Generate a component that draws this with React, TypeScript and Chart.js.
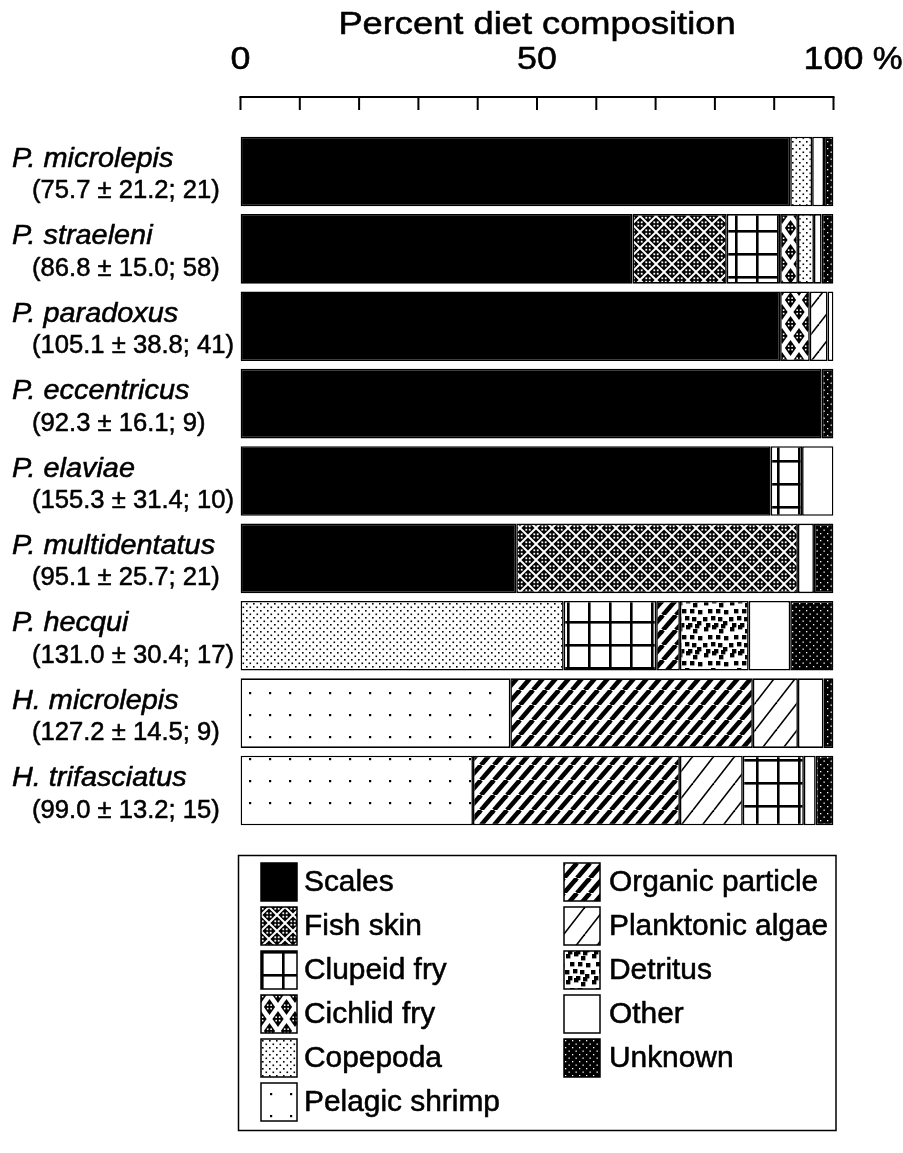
import React, { useEffect, useRef } from "react";
import { Chart, registerables } from "chart.js";

Chart.register(...registerables);

// ---------- data ----------
const species = [
  "P. microlepis",
  "P. straeleni",
  "P. paradoxus",
  "P. eccentricus",
  "P. elaviae",
  "P. multidentatus",
  "P. hecqui",
  "H. microlepis",
  "H. trifasciatus",
];
const sizeStats = [
  "(75.7 ± 21.2; 21)",
  "(86.8 ± 15.0; 58)",
  "(105.1 ± 38.8; 41)",
  "(92.3 ± 16.1; 9)",
  "(155.3 ± 31.4; 10)",
  "(95.1 ± 25.7; 21)",
  "(131.0 ± 30.4; 17)",
  "(127.2 ± 14.5; 9)",
  "(99.0 ± 13.2; 15)",
];
const categories = [
  "Scales",
  "Fish skin",
  "Clupeid fry",
  "Cichlid fry",
  "Copepoda",
  "Pelagic shrimp",
  "Organic particle",
  "Planktonic algae",
  "Detritus",
  "Other",
  "Unknown",
];
const scales = [92.7, 66.1, 91.0, 98.0, 89.4, 46.5, 0, 0, 0];
const fishSkin = [0, 15.9, 0, 0, 0, 47.5, 0, 0, 0];
const clupeidFry = [0, 9.0, 0, 0, 5.3, 0, 15.6, 0, 10.3];
const cichlidFry = [0, 3.0, 5.0, 0, 0, 0, 0, 0, 0];
const copepoda = [3.7, 2.7, 0, 0, 0, 0, 54.5, 0, 0];
const pelagicShrimp = [0, 0, 0, 0, 0, 0, 0, 45.5, 39.2];
const organicParticle = [0, 0, 0, 0, 0, 0, 4.0, 40.9, 34.9];
const planktonicAlgae = [0, 0, 3.0, 0, 0, 0, 0, 7.6, 10.6];
const detritus = [0, 0, 0, 0, 0, 0, 11.6, 0, 0];
const other = [2.0, 1.3, 1.0, 0, 5.3, 2.7, 7.0, 4.3, 2.0];
const unknown = [1.6, 2.0, 0, 2.0, 0, 3.3, 7.3, 1.7, 3.0];

// order of the segments inside each bar (left to right)
const stackOrder = [
  ["Scales", "Copepoda", "Other", "Unknown"],
  ["Scales", "Fish skin", "Clupeid fry", "Cichlid fry", "Copepoda", "Other", "Unknown"],
  ["Scales", "Cichlid fry", "Planktonic algae", "Other"],
  ["Scales", "Unknown"],
  ["Scales", "Clupeid fry", "Other"],
  ["Scales", "Fish skin", "Other", "Unknown"],
  ["Copepoda", "Clupeid fry", "Organic particle", "Detritus", "Other", "Unknown"],
  ["Pelagic shrimp", "Organic particle", "Planktonic algae", "Other", "Unknown"],
  ["Pelagic shrimp", "Organic particle", "Planktonic algae", "Clupeid fry", "Other", "Unknown"],
];

const axisTickValues = [0, 10, 20, 30, 40, 50, 60, 70, 80, 90, 100];
const axisLabelValues = [0, 50, 100];
const axisTitle = "Percent diet composition";
const axisUnit = " %";

const legendLeft = ["Scales", "Fish skin", "Clupeid fry", "Cichlid fry", "Copepoda", "Pelagic shrimp"];
const legendRight = ["Organic particle", "Planktonic algae", "Detritus", "Other", "Unknown"];

const FONT = '"Liberation Sans", Arial, Helvetica, sans-serif';

// ---------- patterns ----------
function makePattern(w: number, h: number, draw: (g: CanvasRenderingContext2D, w: number, h: number) => void) {
  const c = document.createElement("canvas");
  c.width = w;
  c.height = h;
  const g = c.getContext("2d") as CanvasRenderingContext2D;
  draw(g, w, h);
  return g.createPattern(c, "repeat") as CanvasPattern;
}

function diamond(g: CanvasRenderingContext2D, cx: number, cy: number, hw: number, hh: number) {
  g.beginPath();
  g.moveTo(cx, cy - hh);
  g.lineTo(cx + hw, cy);
  g.lineTo(cx, cy + hh);
  g.lineTo(cx - hw, cy);
  g.closePath();
  g.fill();
}

function dots4(g: CanvasRenderingContext2D, x: number, y: number, s: number) {
  g.fillRect(x - 2.6, y - 2.6, s, s);
  g.fillRect(x + 0.8, y - 2.6, s, s);
  g.fillRect(x - 2.6, y + 0.8, s, s);
  g.fillRect(x + 0.8, y + 0.8, s, s);
}

function buildPatterns(): Record<string, CanvasPattern | string> {
  const fish = makePattern(16, 16, (g, w, h) => {
    g.fillStyle = "#fff";
    g.fillRect(0, 0, w, h);
    g.fillStyle = "#000";
    const pts = [[8, 8], [0, 0], [16, 0], [0, 16], [16, 16]];
    pts.forEach(([x, y]) => diamond(g, x, y, 6.6, 6.6));
    g.fillStyle = "#fff";
    pts.forEach(([x, y]) => dots4(g, x, y, 1.8));
  });
  const clupeid = makePattern(21, 23, (g, w, h) => {
    g.fillStyle = "#fff";
    g.fillRect(0, 0, w, h);
    g.fillStyle = "#000";
    g.fillRect(0, 0, w, 2.6);
    g.fillRect(0, 0, 2.6, h);
  });
  const cichlid = makePattern(17, 24, (g, w, h) => {
    g.fillStyle = "#fff";
    g.fillRect(0, 0, w, h);
    g.fillStyle = "#000";
    const pts = [[8.5, 12], [0, 0], [17, 0], [0, 24], [17, 24]];
    pts.forEach(([x, y]) => diamond(g, x, y, 5.6, 8));
    g.fillStyle = "#fff";
    pts.forEach(([x, y]) => dots4(g, x, y, 1.6));
  });
  const cope = makePattern(7, 7, (g, w, h) => {
    g.fillStyle = "#fff";
    g.fillRect(0, 0, w, h);
    g.fillStyle = "#000";
    g.fillRect(1, 1, 1.6, 1.6);
    g.fillRect(4.5, 4.5, 1.6, 1.6);
  });
  const pelagic = makePattern(20, 22, (g, w, h) => {
    g.fillStyle = "#fff";
    g.fillRect(0, 0, w, h);
    g.fillStyle = "#000";
    g.fillRect(9, 10, 2.2, 2.2);
  });
  const stripes = (w: number, h: number, lw: number) =>
    makePattern(w, h, (g) => {
      g.fillStyle = "#fff";
      g.fillRect(0, 0, w, h);
      g.strokeStyle = "#000";
      g.lineWidth = lw;
      for (let k = -1; k <= 1; k++) {
        g.beginPath();
        g.moveTo(k * w, h);
        g.lineTo(k * w + w, 0);
        g.stroke();
      }
    });
  const organic = stripes(13, 15, 4.6);
  const plankton = stripes(21, 27, 1.6);
  const detr = makePattern(26, 26, (g, w, h) => {
    g.fillStyle = "#fff";
    g.fillRect(0, 0, w, h);
    g.fillStyle = "#000";
    const sq = [[2, 3], [10, 1], [17, 5], [22, 12], [6, 11], [14, 11], [1, 19], [9, 18], [16, 19], [21, 23], [4, 25], [12, 25], [19, 0]];
    sq.forEach(([x, y]) => g.fillRect(x, y, 4.4, 4.4));
    sq.forEach(([x, y]) => {
      if (x + 4.4 > w) g.fillRect(x - w, y, 4.4, 4.4);
      if (y + 4.4 > h) g.fillRect(x, y - h, 4.4, 4.4);
    });
  });
  const unk = makePattern(7, 7, (g, w, h) => {
    g.fillStyle = "#000";
    g.fillRect(0, 0, w, h);
    g.fillStyle = "#fff";
    g.fillRect(1, 1, 1.3, 1.3);
    g.fillRect(4.5, 4.5, 1.3, 1.3);
  });
  return {
    Scales: "#000",
    "Fish skin": fish,
    "Clupeid fry": clupeid,
    "Cichlid fry": cichlid,
    Copepoda: cope,
    "Pelagic shrimp": pelagic,
    "Organic particle": organic,
    "Planktonic algae": plankton,
    Detritus: detr,
    Other: "#fff",
    Unknown: unk,
  };
}

// ---------- text helper (horizontally stretched, slightly heavy text) ----------
function drawText(
  ctx: CanvasRenderingContext2D,
  text: string,
  x: number,
  y: number,
  font: string,
  sx: number,
  align: "left" | "center" | "right" = "left",
  baseline: CanvasTextBaseline = "alphabetic"
) {
  ctx.save();
  ctx.font = font;
  ctx.textAlign = "left";
  ctx.textBaseline = baseline;
  const w = ctx.measureText(text).width * sx;
  const left = align === "center" ? x - w / 2 : align === "right" ? x - w : x;
  ctx.translate(left, y);
  ctx.scale(sx, 1);
  ctx.fillStyle = "#000";
  ctx.strokeStyle = "#000";
  ctx.lineWidth = 0.55;
  ctx.lineJoin = "round";
  ctx.fillText(text, 0, 0);
  ctx.strokeText(text, 0, 0);
  ctx.restore();
  return w;
}

export default function App() {
  const ref = useRef<HTMLCanvasElement>(null);

  useEffect(() => {
    const canvas = ref.current;
    if (!canvas) return;
    const patterns = buildPatterns();

    const valuesByCategory: Record<string, number[]> = {
      Scales: scales,
      "Fish skin": fishSkin,
      "Clupeid fry": clupeidFry,
      "Cichlid fry": cichlidFry,
      Copepoda: copepoda,
      "Pelagic shrimp": pelagicShrimp,
      "Organic particle": organicParticle,
      "Planktonic algae": planktonicAlgae,
      Detritus: detritus,
      Other: other,
      Unknown: unknown,
    };

    const ranges: Record<string, ([number, number] | null)[]> = {};
    categories.forEach((c) => (ranges[c] = species.map(() => null)));
    stackOrder.forEach((order, i) => {
      let cum = 0;
      order.forEach((c) => {
        const v = valuesByCategory[c][i];
        ranges[c][i] = [cum, cum + v];
        cum += v;
      });
    });

    const datasets = categories.map((c) => ({
      label: c,
      data: ranges[c] as any,
      backgroundColor: patterns[c] as any,
      borderColor: "#000",
      borderWidth: 1.6,
      borderSkipped: false as any,
      grouped: false,
      barPercentage: 0.9,
      categoryPercentage: 1,
    }));

    const decor = {
      id: "decor",
      afterDraw(chart: any) {
        const ctx: CanvasRenderingContext2D = chart.ctx;
        const xs = chart.scales.x;
        const ys = chart.scales.y;
        const x0 = xs.getPixelForValue(0);
        const x100 = xs.getPixelForValue(100);

        // top axis
        const axisY = 97;
        ctx.save();
        ctx.strokeStyle = "#000";
        ctx.lineWidth = 2;
        ctx.beginPath();
        ctx.moveTo(x0 - 1, axisY);
        ctx.lineTo(x100 + 1, axisY);
        ctx.stroke();
        axisTickValues.forEach((v) => {
          const px = xs.getPixelForValue(v);
          ctx.beginPath();
          ctx.moveTo(px, axisY);
          ctx.lineTo(px, axisY + 13);
          ctx.stroke();
        });
        ctx.restore();

        // title and tick labels
        drawText(ctx, axisTitle, (x0 + x100) / 2, 34, `31px ${FONT}`, 1.17, "center");
        axisLabelValues.forEach((v) => {
          const px = xs.getPixelForValue(v);
          const w = drawText(ctx, String(v), px, 69, `32px ${FONT}`, 1.12, "center");
          if (v === 100) drawText(ctx, axisUnit, px + w / 2, 69, `32px ${FONT}`, 1.05, "left");
        });

        // species labels
        species.forEach((s, i) => {
          const yc = ys.getPixelForValue(i);
          drawText(ctx, s, 12, yc - 4.5, `italic 28px ${FONT}`, 1.03, "left");
          drawText(ctx, sizeStats[i], 32, yc + 27, `26px ${FONT}`, 0.985, "left");
        });

        // legend box
        const box = { l: 238.5, t: 855.5, r: 836, b: 1130.5 };
        ctx.save();
        ctx.strokeStyle = "#000";
        ctx.lineWidth = 1.5;
        ctx.strokeRect(box.l, box.t, box.r - box.l, box.b - box.t);
        ctx.restore();

        const rowY0 = 882;
        const rowStep = 44;
        const drawItem = (name: string, sxPos: number, txPos: number, row: number) => {
          const cy = rowY0 + row * rowStep;
          const top = cy - 19;
          ctx.save();
          ctx.translate(sxPos, top);
          ctx.fillStyle = patterns[name] as any;
          ctx.fillRect(0, 0, 36, 38);
          ctx.strokeStyle = "#000";
          ctx.lineWidth = 1.5;
          ctx.strokeRect(0, 0, 36, 38);
          ctx.restore();
          drawText(ctx, name, txPos, cy + 1, `29px ${FONT}`, 1.03, "left", "middle");
        };
        legendLeft.forEach((n, r) => drawItem(n, 261, 304, r));
        legendRight.forEach((n, r) => drawItem(n, 564, 609, r));
      },
    };

    const chart = new Chart(canvas, {
      type: "bar",
      data: { labels: species, datasets },
      options: {
        indexAxis: "y",
        responsive: false,
        maintainAspectRatio: false,
        animation: false,
        devicePixelRatio: 1,
        layout: { padding: { left: 240.5, right: 69.5, top: 132.8, bottom: 323.8 } },
        scales: {
          x: { display: false, min: 0, max: 100 },
          y: { display: false, type: "category", stacked: false },
        },
        plugins: {
          legend: { display: false },
          tooltip: { enabled: false },
          title: { display: false },
        },
      },
      plugins: [decor],
    } as any);

    return () => chart.destroy();
  }, []);

  return (
    <div style={{ position: "absolute", left: 0, top: 0, width: 903, height: 1153, background: "#fff" }}>
      <canvas ref={ref} width={903} height={1153} style={{ display: "block", width: 903, height: 1153 }} />
    </div>
  );
}
